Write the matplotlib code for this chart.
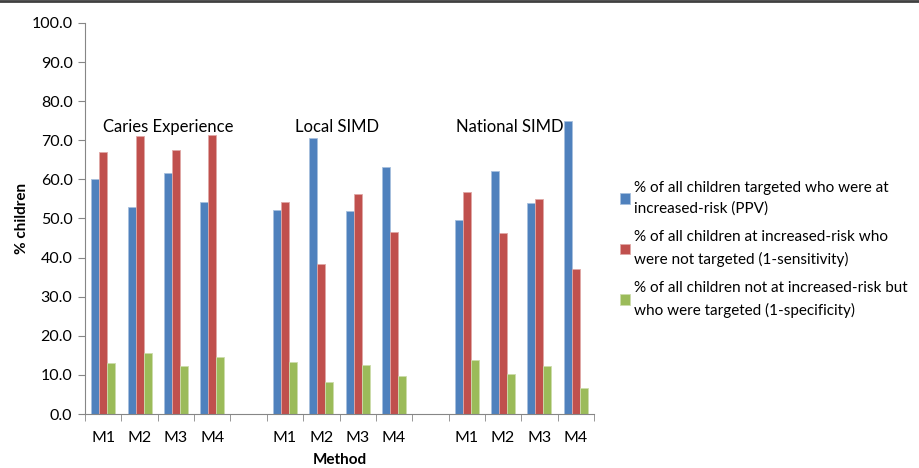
import numpy as np
import matplotlib.pyplot as plt
from matplotlib.lines import Line2D

plt.rcParams['font.family'] = ['Lato', 'DejaVu Sans']

methods = ['M1', 'M2', 'M3', 'M4']
groups = ['Caries Experience', 'Local SIMD', 'National SIMD']

# values per group, M1..M4
ppv = [[60.2, 52.9, 61.6, 54.2],
       [52.2, 70.5, 51.8, 63.2],
       [49.6, 62.2, 53.9, 75.0]]
one_minus_sens = [[67.1, 71.2, 67.6, 71.4],
                  [54.2, 38.4, 56.2, 46.6],
                  [56.8, 46.2, 54.9, 37.1]]
one_minus_spec = [[13.0, 15.6, 12.2, 14.6],
                  [13.2, 8.1, 12.6, 9.8],
                  [13.8, 10.2, 12.3, 6.6]]

series_labels = ['% of all children targeted who were at\nincreased-risk (PPV)',
                 '% of all children at increased-risk who\nwere not targeted (1-sensitivity)',
                 '% of all children not at increased-risk but\nwho were targeted (1-specificity)']
colors = ['#4F81BD', '#C0504D', '#9BBB59']
edges = ['#A7C0DE', '#E0A8A6', '#CDDDAC']

fig = plt.figure(figsize=(9.19, 4.68), dpi=100)
ax = fig.add_axes([85/919, 54/468, 509/919, 391/468])

# slot positions: 4 methods, blank, 4 methods, blank, 4 methods
xpos = []
for g in range(3):
    xpos.append(np.arange(4) + g * 5)
width = 0.22

for s, data in enumerate([ppv, one_minus_sens, one_minus_spec]):
    for g in range(3):
        ax.bar(xpos[g] + (s - 1) * width, data[g], width,
               color=colors[s], edgecolor=edges[s], linewidth=0.6,
               label=series_labels[s] if g == 0 else None, zorder=2)

ax.set_xlim(-0.5, 13.5)
ax.set_ylim(0, 100)
ax.set_yticks(np.arange(0, 101, 10))
ax.set_yticklabels([f'{v:.1f}' for v in np.arange(0, 101, 10)], fontsize=11.5)

centers = np.concatenate(xpos)
ax.set_xticks(centers)
ax.set_xticklabels(methods * 3, fontsize=11.5)
ax.set_xticks(np.arange(-0.5, 14, 1), minor=True)
ax.tick_params(axis='x', which='major', length=0, pad=12)
ax.tick_params(axis='x', which='minor', length=5, color='#868686', direction='out')
ax.tick_params(axis='y', length=5, color='#868686', direction='out', pad=4)

for sp in ['top', 'right']:
    ax.spines[sp].set_visible(False)
ax.spines['left'].set_color('#868686')
ax.spines['bottom'].set_color('#868686')

ax.set_ylabel('% children', fontsize=11, fontweight='bold', labelpad=2)
ax.set_xlabel('Method', fontsize=11, fontweight='bold', labelpad=6)

# group titles inside the plot
ax.text(1.78, 73.5, groups[0], fontsize=12, ha='center', va='center')
ax.text(6.43, 73.5, groups[1], fontsize=12, ha='center', va='center')
ax.text(11.19, 73.5, groups[2], fontsize=12, ha='center', va='center')

leg = fig.legend(loc='upper left', bbox_to_anchor=(606/919, 1 - 167/468), frameon=False,
                 fontsize=11, handlelength=0.65, handleheight=0.65, handletextpad=0.3,
                 labelspacing=0.95)
for t in leg.get_texts():
    t.set_linespacing(1.6)

# frame line at top of image
fig.add_artist(Line2D([0, 1], [0.997, 0.997], color='#404040', linewidth=2,
                      transform=fig.transFigure))

fig.savefig('out.png', dpi=100)
